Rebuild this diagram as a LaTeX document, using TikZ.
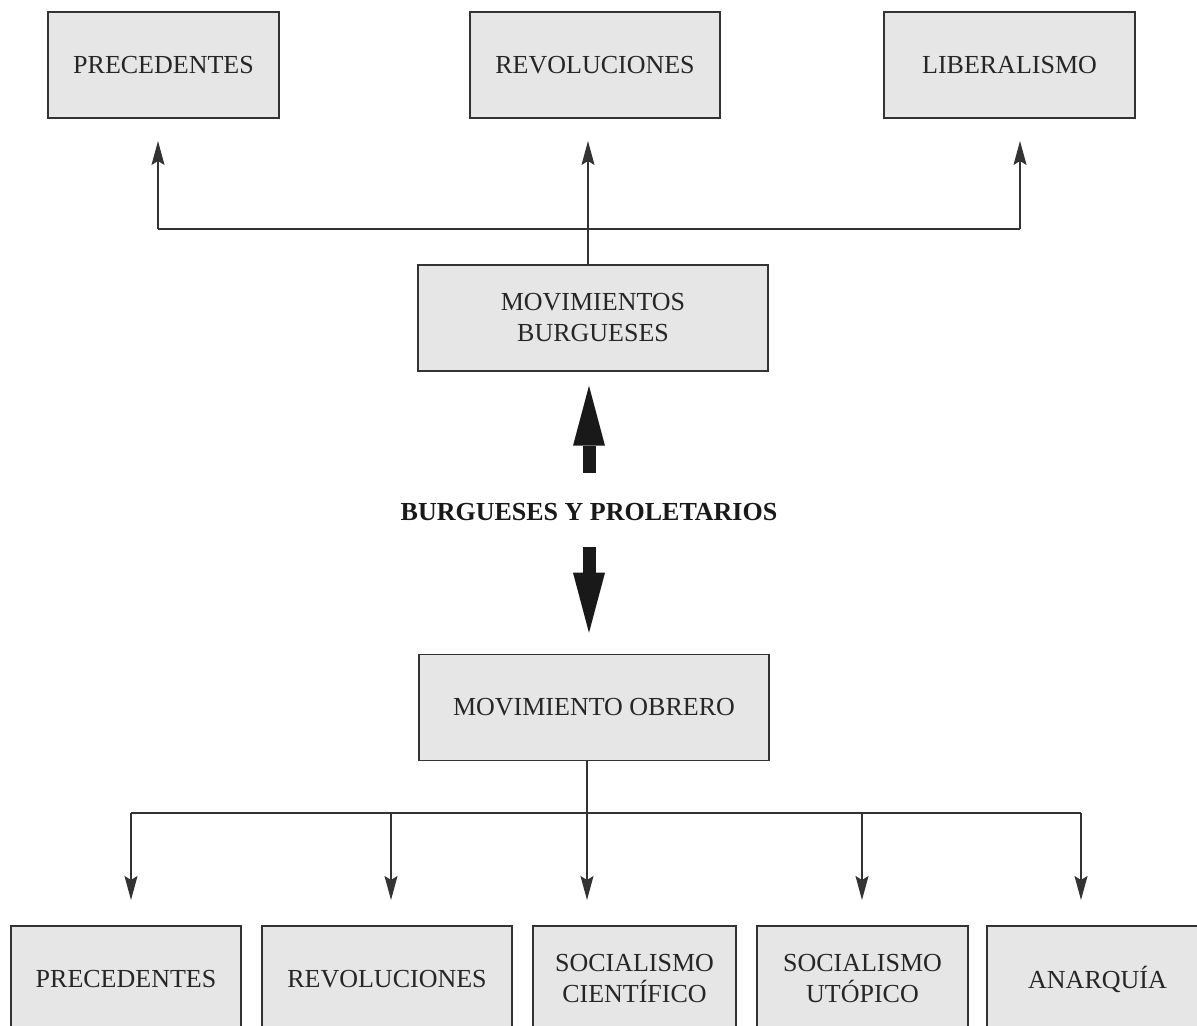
\documentclass[tikz,border=0pt]{standalone}
\usepackage{fontspec}
\setmainfont{Liberation Serif}
\usetikzlibrary{arrows.meta}
\definecolor{boxgray}{HTML}{E6E6E6}
\definecolor{linegray}{HTML}{333333}
\tikzset{
caja/.style={draw=linegray, fill=boxgray, line width=0.75pt, inner sep=0pt, align=center, minimum height=53pt, text=black!85},
linea/.style={draw=linegray, line width=0.65pt},
flecha/.style={linea, -{Stealth[length=12pt,width=6.5pt,inset=2pt]}},
gruesa/.style={draw=black!90, line width=6.5pt, -{Triangle[length=30pt,width=16pt,line width=0pt]}}
}
\begin{document}
\begin{tikzpicture}[font=\fontsize{13}{15.5}\selectfont, x=0.5pt, y=0.5pt]
\useasboundingbox (0,0) rectangle (1197,1026);
\clip (0,0) rectangle (1197,1026);

\node[caja, minimum width=115.5pt] (pre) at (163.5,961) {PRECEDENTES};
\node[caja, minimum width=125pt] (rev) at (595,961) {REVOLUCIONES};
\node[caja, minimum width=125.5pt] (lib) at (1009.5,961) {LIBERALISMO};
\node[caja, minimum width=175pt] (mb) at (593,708) {MOVIMIENTOS\\BURGUESES};
\node[inner sep=0pt, font=\fontsize{13}{15.5}\selectfont\bfseries, text=black!90] (lbl) at (589,514) {BURGUESES Y PROLETARIOS};
\node[caja, minimum width=175pt] (mo) at (594,318.5) {MOVIMIENTO OBRERO};

\node[caja, minimum width=115pt] (pre2) at (126,47) {PRECEDENTES};
\node[caja, minimum width=125pt] (rev2) at (387,47) {REVOLUCIONES};
\node[caja, minimum width=101.5pt] (cie) at (634.5,47) {SOCIALISMO\\CIENTÍFICO};
\node[caja, minimum width=105.5pt] (uto) at (862.5,47) {SOCIALISMO\\UTÓPICO};
\node[caja, minimum width=110.5pt] (ana) at (1097.5,47) {ANARQUÍA};

\coordinate (jt) at (588,797);
\coordinate (tpre) at (158,885);
\coordinate (trev) at (588,885);
\coordinate (tlib) at (1020,885);
\draw[linea] (jt -| tpre) -- (jt -| tlib);
\draw[flecha] (mb.north -| jt) -- (trev);
\draw[flecha] (jt -| tpre) -- (tpre);
\draw[flecha] (jt -| tlib) -- (tlib);

\draw[gruesa, shorten <=15pt, shorten >=7pt] (lbl.north) -- (lbl.north |- mb.south);
\draw[gruesa, shorten <=13pt, shorten >=10.5pt] (lbl.south) -- (lbl.south |- mo.north);

\coordinate (jb) at (587,213);
\foreach \n/\x in {t1/131,t2/391,t3/587,t4/862,t5/1081}
  \coordinate (\n) at (\x,126);
\draw[linea] (jb |- mo.south) -- (jb);
\draw[linea] (jb -| t1) -- (jb -| t5);
\foreach \n in {t1,t2,t3,t4,t5}
  \draw[flecha] (jb -| \n) -- (\n);

\end{tikzpicture}
\end{document}
